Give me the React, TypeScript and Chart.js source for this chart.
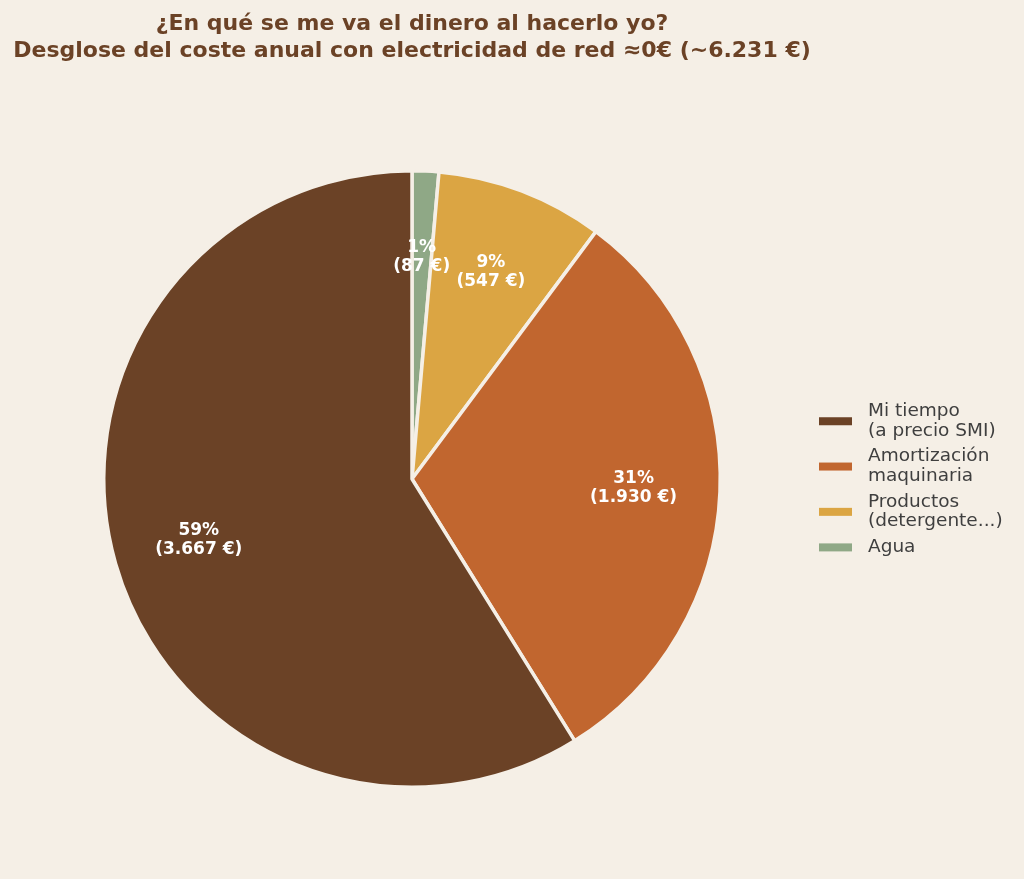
import React, { useEffect, useRef } from "react";
import { Chart, registerables } from "chart.js";

Chart.register(...registerables);

// data in legend order
const categories = [["Mi tiempo", "(a precio SMI)"], ["Amortización", "maquinaria"], ["Productos", "(detergente...)"], ["Agua"]];
const costs = [3667, 1930, 547, 87];
const colors = ["#6B4226", "#C1662F", "#DBA543", "#8FA886"];
const titleLines = ["¿En qué se me va el dinero al hacerlo yo?", "Desglose del coste anual con electricidad de red ≈0€ (~6.231 €)"];

const BG = "#F5EFE6";
const FONT = '"DejaVu Sans"';

const fmtEuro = (v: number) => String(v).replace(/\B(?=(\d{3})+(?!\d))/g, ".");

// matplotlib draws counter-clockwise, Chart.js clockwise: reverse
const pieValues = [...costs].reverse();
const pieColors = [...colors].reverse();

const decorPlugin = {
    id: "decor",
    afterDatasetsDraw(chart: any) {
        const ctx = chart.ctx;
        const meta = chart.getDatasetMeta(0);
        const total = pieValues.reduce((a, b) => a + b, 0);
        ctx.save();
        ctx.fillStyle = "#ffffff";
        ctx.font = `bold 17px ${FONT}`;
        ctx.textAlign = "center";
        ctx.textBaseline = "middle";
        meta.data.forEach((arc: any, i: number) => {
            const p = arc.getProps(["startAngle", "endAngle", "x", "y", "outerRadius"], true);
            const mid = (p.startAngle + p.endAngle) / 2;
            const d = 308 * 0.72;
            const x = p.x + Math.cos(mid) * d;
            const y = p.y + Math.sin(mid) * d;
            const v = pieValues[i];
            const pct = Math.round((v / total) * 100) + "%";
            ctx.fillText(pct, x, y - 9.5);
            ctx.fillText(`(${fmtEuro(v)} €)`, x, y + 9.5);
        });
        ctx.restore();

        // title
        ctx.save();
        ctx.fillStyle = "#6B4226";
        ctx.font = `bold 22px ${FONT}`;
        ctx.textAlign = "center";
        ctx.textBaseline = "alphabetic";
        const cx = meta.data[0].x;
        ctx.fillText(titleLines[0], cx, 30);
        ctx.fillText(titleLines[1], cx, 57);
        ctx.restore();

        // legend
        ctx.save();
        ctx.font = `18.5px ${FONT}`;
        ctx.textBaseline = "alphabetic";
        ctx.textAlign = "left";
        let y = 416;
        categories.forEach((lines, i) => {
            const blockMid = y - 4.5 + (lines.length - 1) * 9.75;
            ctx.fillStyle = colors[i];
            ctx.fillRect(819, blockMid - 4, 33, 8);
            ctx.fillStyle = "#3f3f3f";
            lines.forEach((t, j) => ctx.fillText(t, 868, y + j * 19.5));
            y += 45.3;
        });
        ctx.restore();
    },
};

export default function App() {
    const canvasRef = useRef<HTMLCanvasElement>(null);

    useEffect(() => {
        document.body.style.margin = "0";
        document.body.style.background = BG;
        let chart: Chart | undefined;
        let cancelled = false;
        const make = () => {
            if (cancelled || !canvasRef.current) return;
            chart = new Chart(canvasRef.current, {
                type: "pie",
                data: {
                    labels: [...categories].reverse().map((l) => l.join(" ")),
                    datasets: [{
                        data: pieValues,
                        backgroundColor: pieColors,
                        borderColor: BG,
                        borderWidth: 3.5,
                    }],
                },
                options: {
                    animation: false,
                    responsive: true,
                    maintainAspectRatio: false,
                    layout: { padding: { left: 102, right: 302, top: 169, bottom: 90 } },
                    plugins: {
                        legend: { display: false },
                        title: { display: false },
                        tooltip: { enabled: false },
                    },
                },
                plugins: [decorPlugin],
            });
        };
        Promise.all([
            document.fonts.load(`16px ${FONT}`),
            document.fonts.load(`bold 16px ${FONT}`),
        ]).then(make, make);
        return () => {
            cancelled = true;
            if (chart) chart.destroy();
        };
    }, []);

    return (
        <div style={{ position: "relative", width: 1024, height: 879, background: BG }}>
            <canvas ref={canvasRef}></canvas>
        </div>
    );
}
